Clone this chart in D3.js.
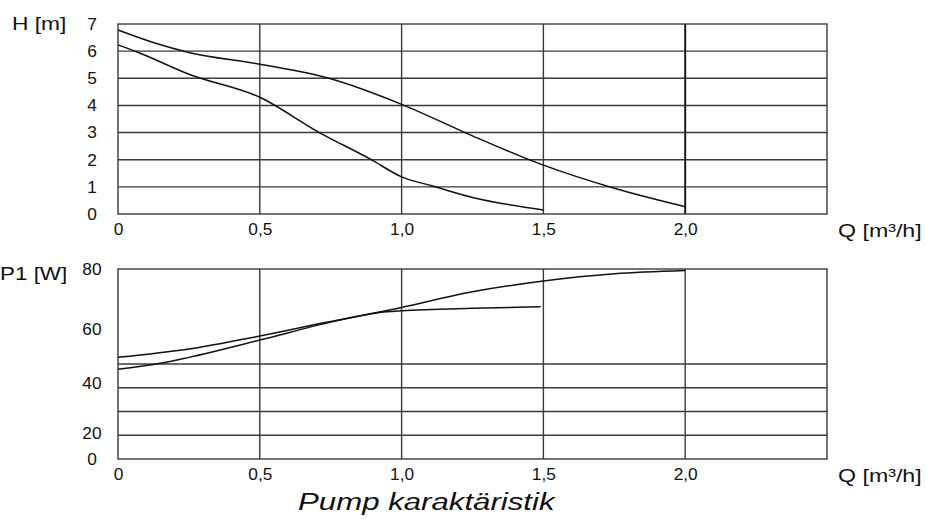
<!DOCTYPE html>
<html>
<head>
<meta charset="utf-8">
<script src="https://cdn.jsdelivr.net/npm/d3@7"></script>
<style>
  html, body { margin: 0; padding: 0; background: #fff; }
  svg { display: block; }
  text { font-family: "Liberation Sans", Arial, Helvetica, sans-serif; fill: #111; }
</style>
</head>
<body>
<svg id="chart" width="926" height="519"></svg>
<script>
// ---------------- DATA ----------------
const Q_TICKS = [0, 0.5, 1.0, 1.5, 2.0];
const Q_TICK_LABELS = ["0", "0,5", "1,0", "1,5", "2,0"];
const H_TICKS = [0, 1, 2, 3, 4, 5, 6, 7];
const P_TICKS = [0, 20, 40, 60, 80];
const P_GRID = [10, 20, 30, 40];

// Head curves H [m] vs Q [m3/h]
const H_MAX_Q = [0, 0.13, 0.25, 0.5, 0.75, 1.0, 1.25, 1.5, 1.75, 2.0];
const H_MAX   = [6.78, 6.3, 5.95, 5.52, 4.98, 4.04, 2.88, 1.8, 0.95, 0.27];
const H_MIN_Q = [0, 0.07, 0.25, 0.5, 0.71, 0.89, 1.0, 1.11, 1.25, 1.5];
const H_MIN   = [6.23, 5.96, 5.15, 4.3, 3.0, 2.02, 1.37, 1.03, 0.61, 0.15];

// Power curves P1 [W] vs Q [m3/h]
const P_A_Q = [0, 0.25, 0.5, 0.75, 0.95, 1.0, 1.25, 1.49];
const P_A   = [49.5, 52.6, 57.4, 62.5, 65.8, 66.1, 66.9, 67.4];
const P_B_Q = [0, 0.16, 0.25, 0.5, 0.75, 1.0, 1.25, 1.5, 1.75, 2.0];
const P_B   = [45.1, 47.5, 49.5, 55.9, 62.3, 67.2, 72.4, 76.0, 78.4, 79.5];

const TITLE = "Pump karaktäristik";
const H_LABEL = "H [m]";
const P_LABEL = "P1 [W]";
const Q_LABEL = "Q [m³/h]";

// ---------------- LAYOUT ----------------
const L = 118, R = 827;
const top1 = 24, bot1 = 214;
const top2 = 269, bot2 = 459;
const SX = 1.05;          // horizontal text stretch of tick labels
const TICK_FS = 16.5;
const GRID = "#3a3a3a";

const svg = d3.select("#chart");

const x = d3.scaleLinear().domain([0, 2.5]).range([L, R]);
const yH = d3.scaleLinear().domain([0, 7]).range([bot1, top1]);
// scanned P1 axis labels are not evenly spaced: piecewise scale
const pFrac = [0, 0.137, 0.4, 0.684, 1];
const yP = d3.scaleLinear().domain(P_TICKS).range(pFrac.map(f => bot2 - f * (bot2 - top2)));
const yPgrid = d3.scaleLinear().domain([0, 80]).range([bot2, top2]);

function grid(g, yScale, yVals, yTop, yBot, heavy2) {
  g.selectAll("line.h").data(yVals).join("line")
    .attr("x1", L).attr("x2", R)
    .attr("y1", d => yScale(d)).attr("y2", d => yScale(d))
    .attr("stroke", GRID).attr("stroke-width", 1.4);
  g.selectAll("line.v").data(Q_TICKS.slice(1)).join("line")
    .attr("x1", d => x(d)).attr("x2", d => x(d))
    .attr("y1", yTop).attr("y2", yBot)
    .attr("stroke", d => (heavy2 && d === 2) ? "#111" : GRID)
    .attr("stroke-width", d => (heavy2 && d === 2) ? 1.9 : 1.4);
  g.append("rect").attr("x", L).attr("y", yTop).attr("width", R - L).attr("height", yBot - yTop)
    .attr("fill", "none").attr("stroke", GRID).attr("stroke-width", 1.4);
}

const g1 = svg.append("g");
grid(g1, yH, H_TICKS.slice(1, 7), top1, bot1, true);
const g2 = svg.append("g");
grid(g2, yPgrid, P_GRID, top2, bot2, false);

// curves
const line = (qs, vs, ys) => d3.line().curve(d3.curveMonotoneX)
  .x((d, i) => x(qs[i])).y((d, i) => ys(vs[i]))(vs);
[[H_MAX_Q, H_MAX], [H_MIN_Q, H_MIN]].forEach(([q, v]) =>
  svg.append("path").attr("d", line(q, v, yH)).attr("fill", "none").attr("stroke", "#111").attr("stroke-width", 1.5));
[[P_A_Q, P_A], [P_B_Q, P_B]].forEach(([q, v]) =>
  svg.append("path").attr("d", line(q, v, yP)).attr("fill", "none").attr("stroke", "#111").attr("stroke-width", 1.5));

// axes
function xAxis(yPos) {
  const a = svg.append("g").attr("transform", `translate(0,${yPos})`)
    .call(d3.axisBottom(x).tickValues(Q_TICKS).tickSize(0).tickPadding(9)
      .tickFormat((d, i) => Q_TICK_LABELS[i]));
  a.select(".domain").remove();
  a.selectAll("text").attr("font-size", TICK_FS).attr("transform", `scale(${SX},1)`).attr("x", 0);
  a.attr("font-family", null);
}
xAxis(bot1); xAxis(bot2);

function yAxis(scale, vals) {
  const a = svg.append("g").attr("transform", `translate(${L},0)`)
    .call(d3.axisLeft(scale).tickValues(vals).tickSize(0).tickFormat(d3.format("d")));
  a.select(".domain").remove();
  a.selectAll("text").attr("font-size", TICK_FS).attr("text-anchor", "middle")
    .attr("x", 0).attr("transform", `translate(-26,0) scale(${SX},1)`);
  a.attr("font-family", null);
}
yAxis(yH, H_TICKS);
yAxis(yP, P_TICKS);

function label(txt, xPos, yPos, size, anchor, sx, italic) {
  svg.append("text").attr("transform", `translate(${xPos},${yPos}) scale(${sx},1)`)
    .attr("text-anchor", anchor).attr("font-size", size)
    .attr("font-style", italic ? "italic" : "normal").text(txt);
}
label(H_LABEL, 12, 30, 19, "start", 1.2, false);
label(P_LABEL, 0, 280, 19, "start", 1.18, false);
label(Q_LABEL, 838, 237, 19, "start", 1.22, false);
label(Q_LABEL, 838, 482, 19, "start", 1.22, false);
label(TITLE, 298, 510, 24, "start", 1.3, true);
</script>
</body>
</html>
